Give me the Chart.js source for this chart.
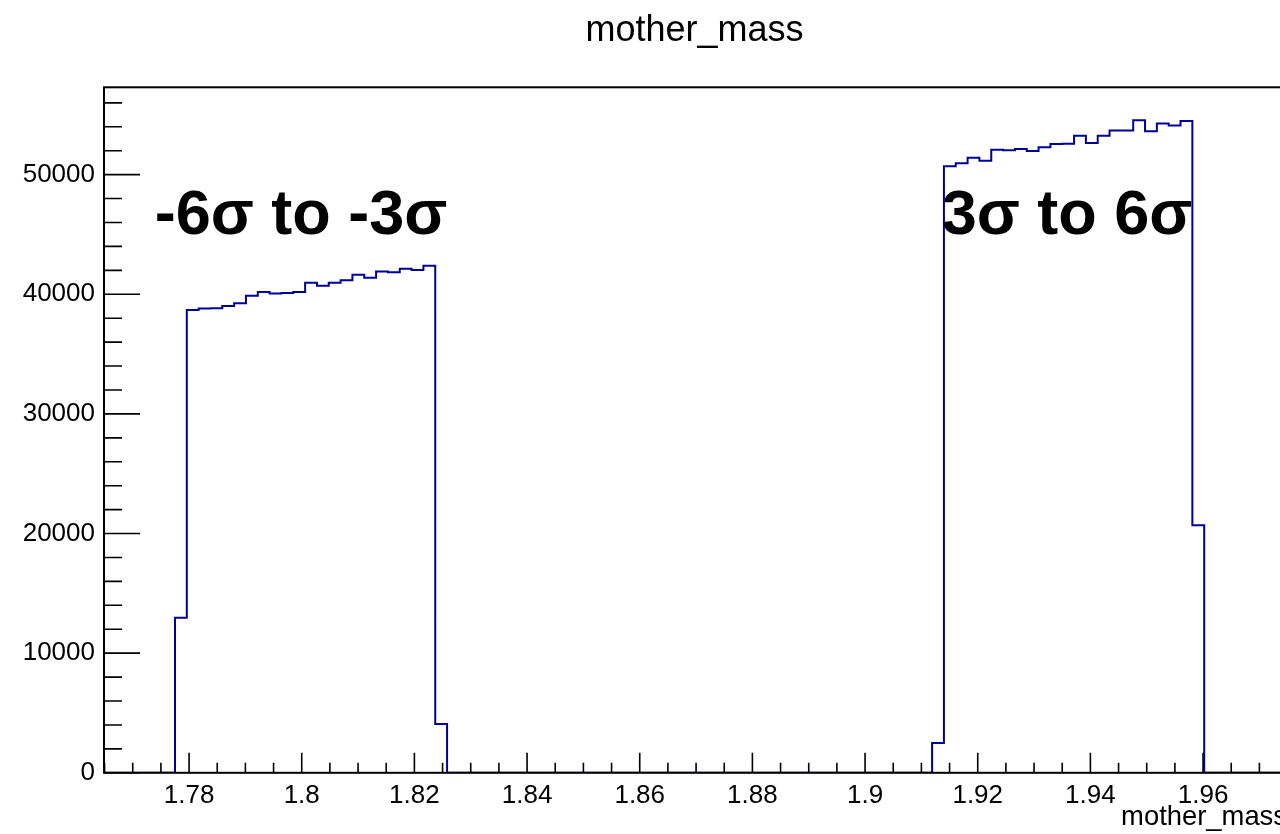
<!DOCTYPE html>
<html>
<head>
<meta charset="utf-8">
<title>mother_mass</title>
<script src="https://cdn.jsdelivr.net/npm/chart.js@4/dist/chart.umd.min.js"></script>
<style>
  html, body { margin: 0; padding: 0; background: #fff; overflow: hidden; }
  #wrap { width: 1389px; height: 834px; }
  canvas { display: block; }
</style>
</head>
<body>
<div id="wrap"><canvas id="c" width="1389" height="834"></canvas></div>
<script>
// Histogram binning: 100 fixed-width bins starting at binStart
const binStart = 1.7649;
const binWidth = 0.0021;
const binCount = 100;

// Index of the first filled bin in each sideband
const lowBandFirstBin = 6;
const highBandFirstBin = 70;

// Bin contents, -6σ..-3σ sideband
const lowBandCounts = [
  12950, 38690, 38800, 38830, 39020, 39250, 39870, 40180, 40070, 40100,
  40180, 40970, 40710, 40960, 41180, 41630, 41390, 41910, 41840, 42140,
  42030, 42380, 4080
];

// Bin contents, 3σ..6σ sideband
const highBandCounts = [
  2490, 50700, 50950, 51420, 51150, 52090, 52040, 52150, 51980, 52290,
  52570, 52590, 53260, 52650, 53240, 53680, 53680, 54550, 53630, 54270,
  54100, 54490, 20690
];

// Axis ticks and labels
const xTickValues = [1.78, 1.80, 1.82, 1.84, 1.86, 1.88, 1.90, 1.92, 1.94, 1.96];
const xTickLabels = ['1.78', '1.8', '1.82', '1.84', '1.86', '1.88', '1.9', '1.92', '1.94', '1.96'];
const yTickValues = [0, 10000, 20000, 30000, 40000, 50000];
const yTickLabels = ['0', '10000', '20000', '30000', '40000', '50000'];

const histTitle = 'mother_mass';
const xTitle = 'mother_mass';
const bandLabels = ['-6σ to -3σ', '3σ to 6σ'];

const FONT = '"Liberation Sans", Arial, Helvetica, sans-serif';

// Outline of the histogram as step points at bin low edges
function binEdge(k) { return binStart + k * binWidth; }
const outline = [{ x: binEdge(0), y: 0 }];
function addBand(first, counts) {
  counts.forEach((c, i) => outline.push({ x: binEdge(first + i), y: c }));
  outline.push({ x: binEdge(first + counts.length), y: 0 });
}
addBand(lowBandFirstBin, lowBandCounts);
addBand(highBandFirstBin, highBandCounts);
outline.push({ x: binEdge(binCount), y: 0 });

// Frame, inward tick marks and the sideband captions
const frameAndTicks = {
  id: 'frameAndTicks',
  afterDatasetsDraw(chart) {
    const { ctx, chartArea: a, scales: { x, y } } = chart;
    ctx.save();
    ctx.strokeStyle = '#000';
    ctx.lineCap = 'butt';

    // y ticks: major every 10000, minor every 2000
    ctx.lineWidth = 1.6;
    ctx.beginPath();
    for (let v = 0; v <= y.max; v += 2000) {
      const py = y.getPixelForValue(v);
      const len = v % 10000 === 0 ? 36 : 18;
      ctx.moveTo(a.left, py);
      ctx.lineTo(a.left + len, py);
    }
    // x ticks: major every 0.02, minor every 0.005
    const first = Math.ceil(x.min / 0.005 - 1e-6);
    for (let i = first; i * 0.005 <= x.max + 1e-9; i++) {
      const px = x.getPixelForValue(i * 0.005);
      const len = i % 4 === 0 ? 20 : 10;
      ctx.moveTo(px, a.bottom);
      ctx.lineTo(px, a.bottom - len);
    }
    ctx.stroke();

    // frame
    ctx.lineWidth = 2;
    ctx.strokeRect(a.left, a.top, a.right - a.left, a.bottom - a.top);

    // sideband captions, anchored in data coordinates
    ctx.fillStyle = '#000';
    ctx.font = 'bold 63px ' + FONT;
    ctx.textAlign = 'left';
    ctx.textBaseline = 'alphabetic';
    ctx.fillText(bandLabels[0], x.getPixelForValue(1.7739), y.getPixelForValue(45000));
    ctx.fillText(bandLabels[1], x.getPixelForValue(1.9136), y.getPixelForValue(45000));
    ctx.restore();
  }
};

new Chart(document.getElementById('c'), {
  type: 'line',
  data: {
    datasets: [{
      data: outline,
      stepped: 'before',
      borderColor: '#000099',
      borderWidth: 2,
      pointRadius: 0,
      fill: false
    }]
  },
  options: {
    responsive: false,
    animation: false,
    devicePixelRatio: 1,
    layout: { padding: 0 },
    plugins: {
      legend: { display: false },
      tooltip: { enabled: false },
      title: {
        display: true,
        text: histTitle,
        color: '#000',
        font: { family: FONT, size: 36, weight: 'normal' },
        padding: { top: 9, bottom: 35.1 }
      }
    },
    scales: {
      x: {
        type: 'linear',
        min: binStart,
        max: binEdge(binCount),
        grid: { display: false, tickLength: 0 },
        border: { display: false },
        afterBuildTicks: s => { s.ticks = xTickValues.map(v => ({ value: v })); },
        afterFit: s => { s.height = 61.2; },
        ticks: {
          autoSkip: false,
          maxRotation: 0,
          padding: 7,
          color: '#000',
          font: { family: FONT, size: 26 },
          callback: (v, i) => xTickLabels[i]
        },
        title: {
          display: true,
          text: xTitle,
          align: 'end',
          color: '#000',
          font: { family: FONT, size: 27.4 },
          padding: { top: 0, bottom: 0 }
        }
      },
      y: {
        type: 'linear',
        min: 0,
        max: 57300,
        grid: { display: false, tickLength: 0 },
        border: { display: false },
        afterBuildTicks: s => { s.ticks = yTickValues.map(v => ({ value: v })); },
        afterFit: s => { s.width = 104; },
        ticks: {
          padding: 9,
          color: '#000',
          font: { family: FONT, size: 26 },
          callback: (v, i) => yTickLabels[i]
        }
      },
      yRight: {
        position: 'right',
        min: 0,
        max: 1,
        display: true,
        grid: { display: false },
        border: { display: false },
        ticks: { display: false },
        afterFit: s => { s.width = 102; }
      }
    }
  },
  plugins: [frameAndTicks]
});
</script>
</body>
</html>
